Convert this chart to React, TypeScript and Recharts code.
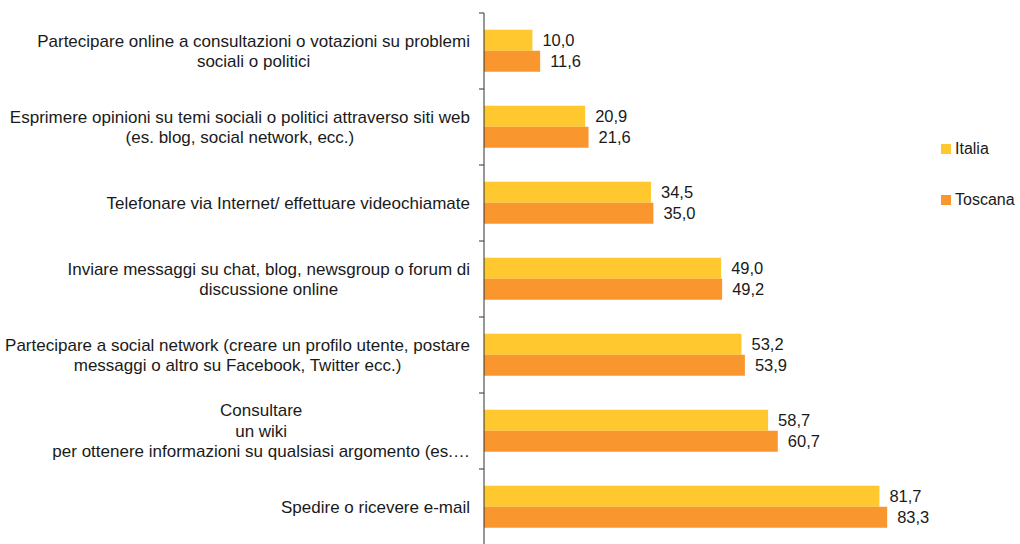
import React from 'react';
import { BarChart, Bar, XAxis, YAxis, LabelList } from 'recharts';

const categories = [
  'Partecipare online a consultazioni o votazioni su problemi\nsociali o politici',
  'Esprimere opinioni su temi sociali o politici attraverso siti web\n(es. blog, social network, ecc.)',
  'Telefonare via Internet/ effettuare videochiamate',
  'Inviare messaggi su chat, blog, newsgroup o forum di\ndiscussione online',
  'Partecipare a social network (creare un profilo utente, postare\nmessaggi o altro su Facebook, Twitter ecc.)',
  'Consultare\nun wiki\nper ottenere informazioni su qualsiasi argomento (es.…',
  'Spedire o ricevere e-mail',
];
const italia = [10.0, 20.9, 34.5, 49.0, 53.2, 58.7, 81.7];
const toscana = [11.6, 21.6, 35.0, 49.2, 53.9, 60.7, 83.3];

const data = categories.map((name, i) => ({ name, italia: italia[i], toscana: toscana[i] }));

const FONT = '"Liberation Sans", Arial, sans-serif';
const TEXT = '#1a1a1a';
const AXIS = '#333';
const YELLOW = '#FFC82E';
const ORANGE = '#F9962E';

const CHART_H = 546;
const MARGIN = { top: 13, right: 52, bottom: 1, left: 0 };
const TICK_MARGIN = 14;
const BAND = (CHART_H - MARGIN.top - MARGIN.bottom) / categories.length;

let ctx: CanvasRenderingContext2D | null = null;
function measure(s: string, size: number) {
  if (!ctx) ctx = document.createElement('canvas').getContext('2d');
  if (!ctx) return s.length * size * 0.45;
  ctx.font = `${size}px "Liberation Sans", Arial`;
  return ctx.measureText(s).width;
}

// category label, plus Excel-style tick marks between categories
const CategoryTick = (props: any) => {
  const { x, y, payload, index, visibleTicksCount } = props;
  const size = 17;
  const lh = 20.5;
  const lines: string[] = String(payload.value).split('\n');
  const w = Math.max(...lines.map((l) => measure(l, size)));
  const cx = x - w / 2;
  const startY = y - ((lines.length - 1) * lh) / 2;
  const ax = x + TICK_MARGIN;
  return (
    <g>
      <line x1={ax - 5} x2={ax} y1={y - BAND / 2} y2={y - BAND / 2} stroke={AXIS} />
      {index === visibleTicksCount - 1 && (
        <line x1={ax - 5} x2={ax} y1={y + BAND / 2} y2={y + BAND / 2} stroke={AXIS} />
      )}
      <text x={cx} y={startY} textAnchor="middle" fontSize={size} fontFamily={FONT} fill={TEXT}>
        {lines.map((l, i) => (
          <tspan key={i} x={cx} y={startY + i * lh} dy="0.35em">{l}</tspan>
        ))}
      </text>
    </g>
  );
};

const fmt = (v: any) => Number(v).toFixed(1).replace('.', ',');

const legendItems = [
  { label: 'Italia', color: YELLOW, top: 139 },
  { label: 'Toscana', color: ORANGE, top: 190 },
];

export default function App() {
  return (
    <div style={{ position: 'absolute', left: 0, top: 0, width: 1020, height: 544, overflow: 'hidden', background: '#fff' }}>
      <BarChart
        width={1020}
        height={CHART_H}
        layout="vertical"
        data={data}
        margin={MARGIN}
        barCategoryGap="22%"
        barGap={0}
      >
        <XAxis type="number" domain={[0, 100]} hide />
        <YAxis
          type="category"
          dataKey="name"
          width={484}
          axisLine={{ stroke: AXIS }}
          tickLine={false}
          tickSize={0}
          tickMargin={TICK_MARGIN}
          interval={0}
          tick={<CategoryTick />}
        />
        <Bar dataKey="italia" name="Italia" fill={YELLOW} isAnimationActive={false}>
          <LabelList dataKey="italia" position="right" offset={10} formatter={fmt} fill={TEXT} fontSize={16.5} fontFamily={FONT} />
        </Bar>
        <Bar dataKey="toscana" name="Toscana" fill={ORANGE} isAnimationActive={false}>
          <LabelList dataKey="toscana" position="right" offset={10} formatter={fmt} fill={TEXT} fontSize={16.5} fontFamily={FONT} />
        </Bar>
      </BarChart>
      {legendItems.map((it) => (
        <div key={it.label} style={{ position: 'absolute', left: 941, top: it.top, display: 'flex', alignItems: 'center', height: 20, fontFamily: FONT, fontSize: 16, color: TEXT }}>
          <span style={{ width: 10, height: 10, background: it.color, display: 'inline-block', marginRight: 4 }} />
          <span>{it.label}</span>
        </div>
      ))}
    </div>
  );
}
